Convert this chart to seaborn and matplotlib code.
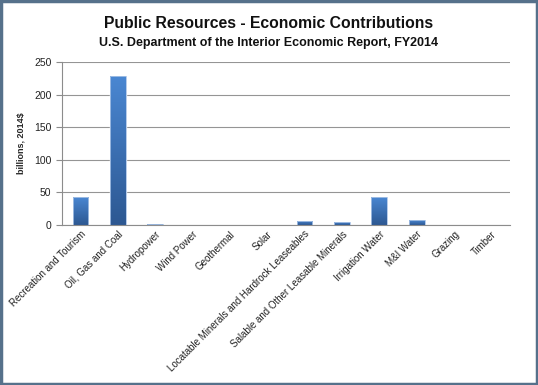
import numpy as np
import matplotlib
matplotlib.use("Agg")
import matplotlib.pyplot as plt
import seaborn as sns
from matplotlib.patches import Rectangle

sns.set_theme(style="white")
plt.rcParams['font.family'] = ['Liberation Sans', 'DejaVu Sans']

# Data (billions, 2014$)
categories = ['Recreation and Tourism', 'Oil, Gas and Coal', 'Hydropower', 'Wind Power',
              'Geothermal', 'Solar', 'Locatable Minerals and Hardrock Leaseables',
              'Salable and Other Leasable Minerals', 'Irrigation Water', 'M&I Water',
              'Grazing', 'Timber']
values = [42, 228, 1.5, 0.2, 0.1, 0.1, 6.5, 4, 42.5, 7.5, 0.2, 0.1]
y_ticks = [0, 50, 100, 150, 200, 250]

fig = plt.figure(figsize=(5.38, 3.85), dpi=100)
ax = fig.add_axes([0.115, 0.416, 0.833, 0.423])

sns.barplot(x=categories, y=values, color='#3b6fb6', width=0.42, ax=ax, saturation=1)

# gradient fill on each bar
grad = np.linspace(0, 1, 256).reshape(-1, 1)
cmap = matplotlib.colors.LinearSegmentedColormap.from_list('b', ['#2d5892', '#4a87d2'])
for p in ax.patches:
    x0, y0 = p.get_x(), p.get_y()
    w, h = p.get_width(), p.get_height()
    if h <= 0:
        continue
    im = ax.imshow(grad, extent=[x0, x0 + w, y0, y0 + h], origin='lower', cmap=cmap,
                   aspect='auto', zorder=p.get_zorder() + 0.1)
    im.set_clip_path(p)
    ax.add_patch(Rectangle((x0, y0), w, h, fill=False, edgecolor='#a9c3e6', lw=0.6,
                           zorder=p.get_zorder() + 0.2))

ax.set_xlim(-0.5, len(categories) - 0.5)
ax.set_ylim(0, 250)
ax.set_yticks(y_ticks)
ax.yaxis.grid(True, color='#959595', lw=0.8)
ax.set_axisbelow(True)

for s in ['top', 'right']:
    ax.spines[s].set_visible(False)
for s in ['left', 'bottom']:
    ax.spines[s].set_color('#8c8c8c')
    ax.spines[s].set_linewidth(0.8)

ax.set_xticks(range(len(categories)))
ax.set_xticklabels(categories, rotation=45, ha='right', rotation_mode='anchor',
                   fontsize=7, color='#222222')
ax.tick_params(axis='x', length=0, pad=3)
ax.set_xticks(np.arange(-0.5, len(categories), 1), minor=True)
ax.tick_params(axis='x', which='minor', length=4, color='#8c8c8c', width=0.8, direction='out')
ax.tick_params(axis='y', length=4, color='#8c8c8c', width=0.8, direction='out',
               labelsize=7.5, labelcolor='#222222', left=True)
ax.set_xlabel('')
ax.set_ylabel('billions, 2014$', fontsize=6.5, fontweight='bold', labelpad=6)

fig.text(0.5, 0.94, 'Public Resources - Economic Contributions', ha='center', va='center',
         fontsize=11.3, fontweight='bold', color='#111111')
fig.text(0.5, 0.888, 'U.S. Department of the Interior Economic Report, FY2014', ha='center',
         va='center', fontsize=9, fontweight='bold', color='#111111')

fig.patches.append(Rectangle((0.002, 0.003), 0.996, 0.994, transform=fig.transFigure,
                             fill=False, edgecolor='#56718b', lw=2.5))

fig.savefig('out.png', dpi=100)
